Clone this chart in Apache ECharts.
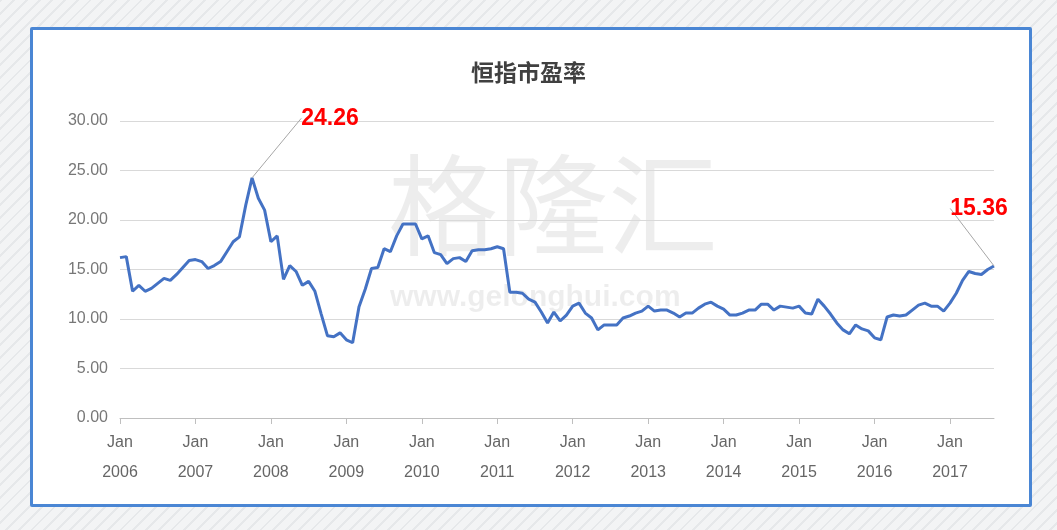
<!DOCTYPE html>
<html><head><meta charset="utf-8">
<script src="https://cdn.jsdelivr.net/npm/echarts@6/dist/echarts.min.js"></script>
<style>
html,body{margin:0;padding:0;}
body{width:1057px;height:530px;background:repeating-linear-gradient(135deg,#e6e8ea 0 2px,#f3f4f5 2px 9px);}
#panel{position:absolute;left:30px;top:27px;width:996px;height:474px;border:3px solid #4a86d4;background:#fff;border-radius:2px;}
#c{position:absolute;left:-33px;top:-30px;width:1057px;height:530px;}
</style></head><body>
<div id="panel"><div id="c"></div></div>
<script>
const title = "恒指市盈率";
const startYear = 2006;
const peValues = [
16.2,16.3,12.8,13.4,12.8,13.1,13.6,14.1,13.9,14.5,15.2,15.9,
16.0,15.8,15.1,15.4,15.8,16.8,17.8,18.3,21.5,24.26,22.2,21.0,
17.8,18.4,14.0,15.4,14.8,13.4,13.8,12.8,10.5,8.3,8.2,8.6,
7.9,7.6,11.2,13.0,15.1,15.2,17.1,16.8,18.4,19.6,19.6,19.6,
18.1,18.4,16.7,16.5,15.6,16.1,16.2,15.8,16.9,17.0,17.0,17.1,
17.3,17.1,12.7,12.7,12.6,12.0,11.7,10.7,9.6,10.7,9.8,10.4,
11.3,11.6,10.6,10.1,8.9,9.4,9.4,9.4,10.1,10.3,10.6,10.8,
11.3,10.8,10.9,10.9,10.6,10.2,10.6,10.6,11.1,11.5,11.7,11.3,
11.0,10.4,10.4,10.6,10.9,10.9,11.5,11.5,10.9,11.3,11.2,11.1,
11.3,10.6,10.5,12.0,11.3,10.5,9.6,8.9,8.5,9.4,9.0,8.8,
8.1,7.9,10.2,10.4,10.3,10.4,10.9,11.4,11.6,11.3,11.3,10.8,
11.6,12.6,13.9,14.8,14.6,14.5,15.0,15.36];
const annotated = [21, peValues.length-1];
const categories = peValues.map((v,i)=>{const y=startYear+Math.floor(i/12);const m=i%12;return m===0?('Jan\n'+y):(y+'-'+(m+1));});
const chart = echarts.init(document.getElementById('c'));
chart.setOption({
  animation:false,
  title:{text:title,left:'center',top:56,textStyle:{fontSize:23,fontWeight:'bold',color:'#404040',fontFamily:'Noto Sans CJK SC'}},
  graphic:[
    {type:'text',left:388,top:150,z:0,style:{text:'格隆汇',fontSize:110,fill:'rgba(0,0,0,0.07)',fontFamily:'Noto Sans CJK SC'}},
    {type:'text',left:390,top:283,z:0,style:{text:'www.gelonghui.com',fontSize:30,fontWeight:'bold',fill:'rgba(0,0,0,0.07)',fontFamily:'Liberation Sans'}}
  ],
  grid:{left:120,right:63,top:121,bottom:112},
  xAxis:{type:'category',boundaryGap:false,data:categories,
    axisLine:{lineStyle:{color:'#bfbfbf'}},
    axisTick:{show:true,interval:(i)=>i%12===0,length:6,lineStyle:{color:'#bfbfbf'}},
    axisLabel:{interval:(i)=>i%12===0,color:'#666',fontSize:16,lineHeight:30,fontFamily:'Liberation Sans',margin:10}},
  yAxis:{type:'value',min:0,max:30,interval:5,
    axisLabel:{formatter:v=>v.toFixed(2),color:'#777',fontSize:16,fontFamily:'Liberation Sans',margin:12},
    splitLine:{lineStyle:{color:'#d9d9d9'}},axisLine:{show:false},axisTick:{show:false}},
  series:[{type:'line',data:peValues.map((v,i)=>annotated.includes(i)?{value:v,label:{show:true}}:v),
    showSymbol:true,symbol:'circle',symbolSize:0,lineStyle:{color:'#4472c4',width:3},
    label:{show:false,formatter:p=>p.value.toFixed(2),color:'#ff0000',fontSize:23,fontWeight:'bold',fontFamily:'Liberation Sans',position:'top'},
    labelLine:{show:true,lineStyle:{color:'#a6a6a6',width:1}},
    labelLayout:function(p){ if(p.dataIndex===21) return {dx:78,dy:-43}; if(p.dataIndex===peValues.length-1) return {dx:-15,dy:-41}; return {}; }
  }]
});
</script></body></html>
